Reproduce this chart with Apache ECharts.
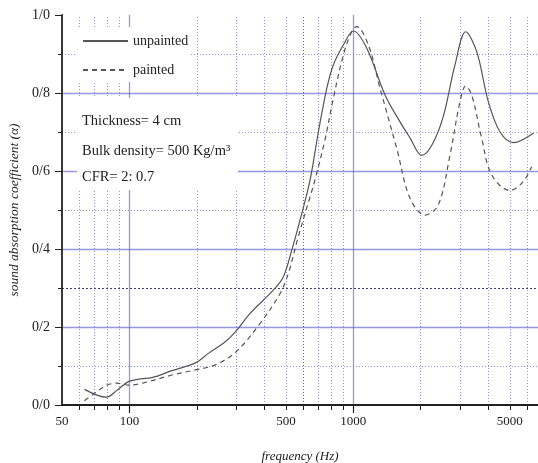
<!DOCTYPE html>
<html><head><meta charset="utf-8">
<script src="https://cdn.jsdelivr.net/npm/echarts@6/dist/echarts.min.js"></script>
<style>html,body{margin:0;padding:0;background:#fff}#c{width:538px;height:463px}</style>
</head><body><div id="c"></div><script>
// ---- data ----
const freqUnpainted = [63, 79, 88, 99, 112, 126, 155, 197, 226, 268, 300, 346, 440, 487, 531, 588, 641, 698, 761, 814, 902, 1000, 1148, 1385, 1616, 1791, 2020, 2250, 2522, 2844, 3176, 3556, 4006, 4519, 5180, 6364];
const absUnpainted  = [0.040, 0.020, 0.038, 0.060, 0.067, 0.070, 0.088, 0.108, 0.133, 0.162, 0.190, 0.235, 0.295, 0.329, 0.397, 0.490, 0.577, 0.700, 0.812, 0.872, 0.923, 0.959, 0.915, 0.795, 0.726, 0.685, 0.640, 0.668, 0.740, 0.872, 0.957, 0.906, 0.778, 0.700, 0.673, 0.697];
const freqPainted = [63, 70.5, 79.5, 88, 99, 118, 155, 197, 242, 300, 383, 471, 513, 568, 641, 674, 747, 814, 902, 983, 1035, 1167, 1316, 1562, 1791, 2090, 2396, 2702, 2995, 3176, 3378, 3741, 4150, 5008, 5741, 6252];
const absPainted  = [0.011, 0.032, 0.051, 0.056, 0.051, 0.058, 0.077, 0.090, 0.103, 0.137, 0.209, 0.286, 0.338, 0.432, 0.534, 0.577, 0.680, 0.786, 0.897, 0.957, 0.970, 0.923, 0.812, 0.658, 0.530, 0.487, 0.513, 0.641, 0.778, 0.818, 0.795, 0.684, 0.590, 0.550, 0.573, 0.611];
const seriesNames = ['unpainted', 'painted'];
const xTickValues = [60, 70, 80, 90, 200, 300, 400, 500, 600, 700, 800, 900, 2000, 3000, 4000, 5000, 6000];
const xMajorTickValues = [100, 1000];
const xLabelValues = [50, 100, 500, 1000, 5000];
const xSolidGrid = [100, 1000];
const xDottedGrid = [60, 70, 80, 90, 200, 300, 400, 500, 700, 800, 900, 2000, 3000, 4000, 5000, 6000];
const xDarkGrid = [600];
const ySolidGrid = [0.2, 0.4, 0.6, 0.8];
const yDottedGrid = [0.1, 0.5, 0.7, 0.9];
const yDarkGrid = [0.3];
const xMin = 50, xMax = 6678;
const notes = ['Thickness= 4 cm', 'Bulk density= 500 Kg/m\u00B3', 'CFR= 2: 0.7'];
const xTitle = 'frequency (Hz)';
const yTitle = 'sound absorption coefficient (\u03B1)';

// ---- styles ----
const FONT = '"Liberation Serif", "DejaVu Serif", serif';
const solidGrid = {color: '#5050d0', width: 1.3, type: 'solid', opacity: 0.6};
const dotGrid = {color: '#7078d8', width: 1, type: [1, 2], opacity: 0.8};
const darkGrid = {color: '#3c3c80', width: 1, type: [2, 2]};
const midGrid = {color: '#5a5ab0', width: 1, type: [1, 2]};

const gridLines = []
  .concat(xSolidGrid.map(v => ({xAxis: v, lineStyle: Object.assign({}, solidGrid)})))
  .concat(xDottedGrid.map(v => ({xAxis: v, lineStyle: Object.assign({}, dotGrid)})))
  .concat(xDarkGrid.map(v => ({xAxis: v, lineStyle: Object.assign({}, midGrid)})))
  .concat(ySolidGrid.map(v => ({yAxis: v, lineStyle: Object.assign({}, solidGrid)})))
  .concat(yDottedGrid.map(v => ({yAxis: v, lineStyle: Object.assign({}, dotGrid)})))
  .concat(yDarkGrid.map(v => ({yAxis: v, lineStyle: Object.assign({}, darkGrid)})));

const chart = echarts.init(document.getElementById('c'), null, {renderer: 'canvas'});
const axisBase = {type: 'log', logBase: 10, min: xMin, max: xMax, gridIndex: 0};
chart.setOption({
  animation: false,
  backgroundColor: '#fff',
  grid: {left: 62, right: 0, top: 15, bottom: 58, containLabel: false, outerBoundsMode: 'none'},
  legend: {
    orient: 'vertical', left: 82, top: 34, padding: 0, itemWidth: 45, itemHeight: 14, itemGap: 15,
    data: seriesNames, selectedMode: false,
    itemStyle: {opacity: 0},
    textStyle: {fontFamily: FONT, fontSize: 14, color: '#222'}
  },
  xAxis: [Object.assign({}, axisBase, {
    position: 'bottom',
    axisLine: {show: true, onZero: false, lineStyle: {color: '#222', width: 1.8}},
    axisTick: {show: true, length: 5, customValues: xTickValues, lineStyle: {color: '#222', width: 1}},
    axisLabel: {show: true, customValues: xLabelValues, margin: 10, fontFamily: FONT, fontSize: 13, color: '#222',
      formatter: v => String(Math.round(v))},
    splitLine: {show: false}, minorTick: {show: false}, minorSplitLine: {show: false},
    name: xTitle, nameLocation: 'middle', nameGap: 45,
    nameTextStyle: {fontFamily: FONT, fontStyle: 'italic', fontSize: 13, color: '#222'}
  }), Object.assign({}, axisBase, {
    position: 'bottom',
    axisLine: {show: false, onZero: false},
    axisTick: {show: true, length: 8, customValues: xMajorTickValues, lineStyle: {color: '#222', width: 1.2}},
    axisLabel: {show: false},
    splitLine: {show: false}
  })],
  yAxis: {
    type: 'value', min: 0, max: 1, interval: 0.2,
    axisLine: {show: true, lineStyle: {color: '#222', width: 1.8}},
    axisTick: {show: true, length: 7, lineStyle: {color: '#222'}},
    minorTick: {show: true, splitNumber: 2, length: 4, lineStyle: {color: '#222'}},
    splitLine: {show: false},
    axisLabel: {margin: 12, fontFamily: FONT, fontSize: 14, color: '#222',
      formatter: v => v.toFixed(1).replace('.', '/')},
    name: yTitle, nameLocation: 'middle', nameGap: 39,
    nameTextStyle: {fontFamily: FONT, fontStyle: 'italic', fontSize: 13.5, color: '#222'}
  },
  graphic: [
    {type: 'rect', z: 1, shape: {x: 77, y: 27, width: 113, height: 55}, style: {fill: '#fff'}},
    {type: 'rect', z: 1, shape: {x: 77, y: 98, width: 161, height: 92}, style: {fill: '#fff'}},
    {type: 'text', z: 4, x: 82, y: 121, style: {text: notes[0], font: '14.5px ' + FONT, fill: '#222', verticalAlign: 'middle'}},
    {type: 'text', z: 4, x: 82, y: 151, style: {text: notes[1], font: '14.5px ' + FONT, fill: '#222', verticalAlign: 'middle'}},
    {type: 'text', z: 4, x: 82, y: 177, style: {text: notes[2], font: '14.5px ' + FONT, fill: '#222', verticalAlign: 'middle'}}
  ],
  series: [
    {type: 'line', data: [], z: 0, silent: true, xAxisIndex: 0,
     markLine: {z: 0, symbol: 'none', silent: true, animation: false, label: {show: false},
       emphasis: {disabled: true}, data: gridLines}},
    {name: seriesNames[0], type: 'line', z: 3, xAxisIndex: 0, smooth: 0.35, symbol: 'none', showSymbol: false,
     data: freqUnpainted.map((f, i) => [f, absUnpainted[i]]),
     itemStyle: {color: '#555'}, lineStyle: {color: '#555', width: 1.2, type: 'solid'}},
    {name: seriesNames[1], type: 'line', z: 3, xAxisIndex: 0, smooth: 0.35, symbol: 'none', showSymbol: false,
     data: freqPainted.map((f, i) => [f, absPainted[i]]),
     itemStyle: {color: '#555'}, lineStyle: {color: '#555', width: 1.2, type: [5, 4]}}
  ]
});
</script></body></html>
